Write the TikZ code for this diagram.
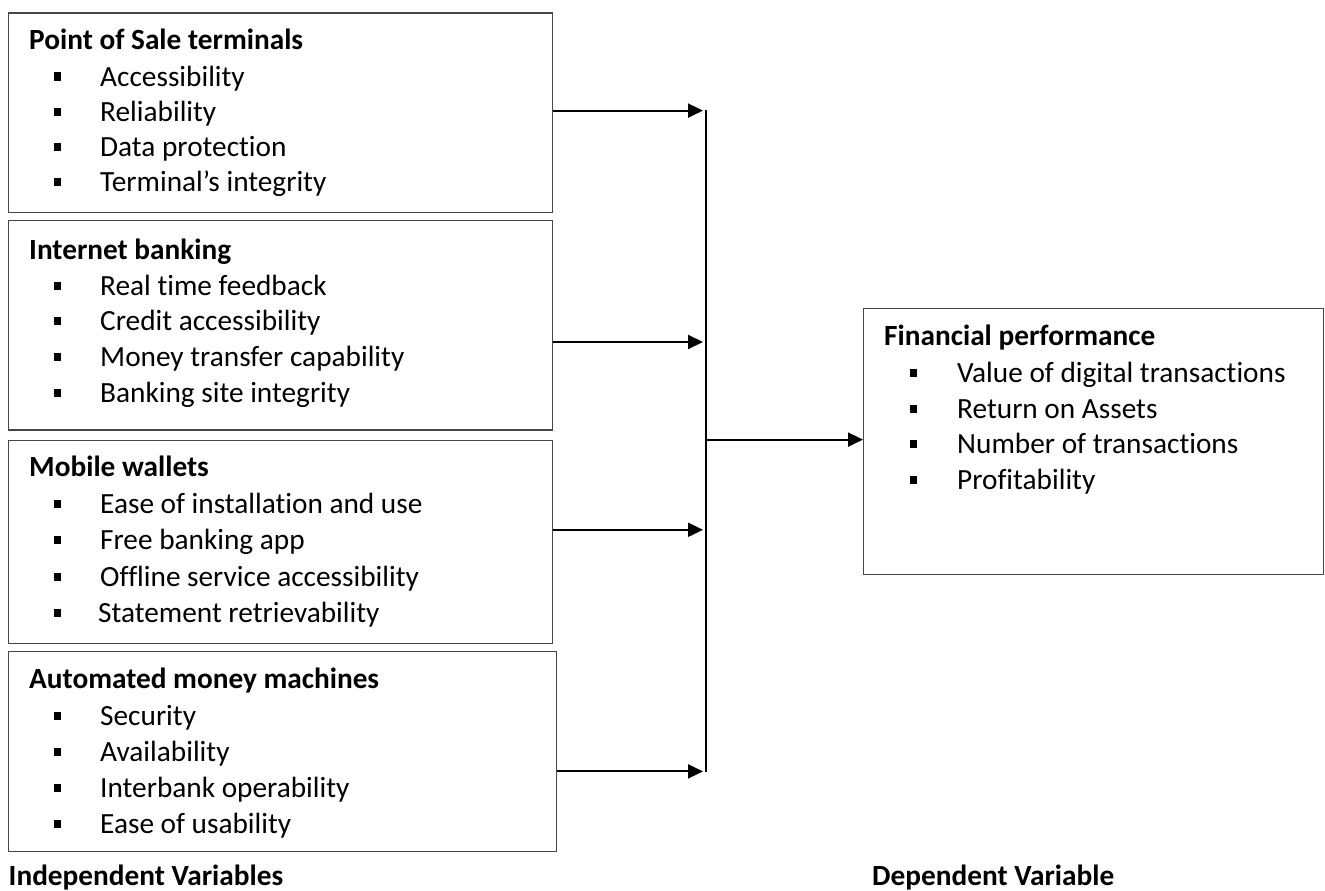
\documentclass[tikz,border=0pt]{standalone}
\usepackage{fontspec}
\setmainfont{Carlito}[Ligatures=NoCommon]
\usetikzlibrary{arrows.meta}
\tikzset{
  box/.style={draw=black!72, line width=1.3pt, inner sep=0pt, anchor=north west},
  bul/.style={fill=black, minimum width=7pt, minimum height=8pt, inner sep=0pt, anchor=center},
  txt/.style={anchor=base west, inner sep=0pt, font=\fontsize{29.3}{36}\selectfont},
  ttl/.style={anchor=base west, inner sep=0pt, font=\fontsize{29.3}{36}\selectfont\bfseries},
  arr/.style={line width=2pt, -{Triangle[length=15pt,width=14pt]}},
  bus/.style={line width=2pt},
}
\begin{document}
\begin{tikzpicture}[x=1pt,y=-1pt]
\useasboundingbox (0,0) rectangle (1325,891);
% boxes
\node[box, minimum width=544pt, minimum height=199pt] (b1) at (8,12.5) {};
\node[box, minimum width=544pt, minimum height=209.4pt] (b2) at (8,220) {};
\node[box, minimum width=544pt, minimum height=203pt] (b3) at (8,439.6) {};
\node[box, minimum width=547.7pt, minimum height=200pt] (b4) at (8,651) {};
\node[box, minimum width=460pt, minimum height=265.5pt] (r) at (863,308) {};
% box 1
\node[ttl] (t1) at (29,49) {Point of Sale terminals};
\node[bul] (p11) at (57.5,76.5) {}; \node[txt] (i11) at (100,86) {Accessibility};
\node[bul] (p12) at (57.5,111.5) {}; \node[txt] (i12) at (100,121) {Reliability};
\node[bul] (p13) at (57.5,146.5) {}; \node[txt] (i13) at (100,156) {Data protection};
\node[bul] (p14) at (57.5,181.5) {}; \node[txt] (i14) at (100,191) {Terminal’s integrity};
% box 2
\node[ttl] (t2) at (29,259) {Internet banking};
\node[bul] (p21) at (57.5,285.5) {}; \node[txt] (i21) at (100,295) {Real time feedback};
\node[bul] (p22) at (57.5,320.5) {}; \node[txt] (i22) at (100,330) {Credit accessibility};
\node[bul] (p23) at (57.5,356.5) {}; \node[txt] (i23) at (100,366) {Money transfer capability};
\node[bul] (p24) at (57.5,392.5) {}; \node[txt] (i24) at (100,402) {Banking site integrity};
% box 3
\node[ttl] (t3) at (29,476) {Mobile wallets};
\node[bul] (p31) at (57.5,503.5) {}; \node[txt] (i31) at (100,513) {Ease of installation and use};
\node[bul] (p32) at (57.5,539.5) {}; \node[txt] (i32) at (100,549) {Free banking app};
\node[bul] (p33) at (57.5,576.5) {}; \node[txt] (i33) at (100,586) {Offline service accessibility};
\node[bul] (p34) at (57.5,612.5) {}; \node[txt] (i34) at (98,622) {Statement retrievability};
% box 4
\node[ttl] (t4) at (29,688) {Automated money machines};
\node[bul] (p41) at (57.5,715.5) {}; \node[txt] (i41) at (100,725) {Security};
\node[bul] (p42) at (57.5,751.5) {}; \node[txt] (i42) at (100,761) {Availability};
\node[bul] (p43) at (57.5,787.5) {}; \node[txt] (i43) at (100,797) {Interbank operability};
\node[bul] (p44) at (57.5,823.5) {}; \node[txt] (i44) at (100,833) {Ease of usability};
% right box
\node[ttl] (tr) at (884,345) {Financial performance};
\node[bul] (pr1) at (913.5,372.5) {}; \node[txt] (ir1) at (957,382) {Value of digital transactions};
\node[bul] (pr2) at (913.5,408.5) {}; \node[txt] (ir2) at (957,418) {Return on Assets};
\node[bul] (pr3) at (913.5,443.5) {}; \node[txt] (ir3) at (957,453) {Number of transactions};
\node[bul] (pr4) at (913.5,479.5) {}; \node[txt] (ir4) at (957,489) {Profitability};
% bottom labels
\node[ttl] (lind) at (8.5,885) {Independent Variables};
\node[ttl] (ldep) at (872,885) {Dependent Variable};
% connectors
\coordinate (a1) at (703,110.6);
\coordinate (a2) at (703,342);
\coordinate (a3) at (703,529.8);
\coordinate (a4) at (703,771.4);
\coordinate (bt) at (706,109.6);
\coordinate (bb) at (706,772.4);
\coordinate (o) at (707,439.6);
\draw[arr] (b1.east |- a1) -- (a1);
\draw[arr] (b2.east |- a2) -- (a2);
\draw[arr] (b3.east |- a3) -- (a3);
\draw[arr] (b4.east |- a4) -- (a4);
\draw[bus] (bt) -- (bb);
\draw[arr] (o) -- (r.west |- o);
\end{tikzpicture}
\end{document}
